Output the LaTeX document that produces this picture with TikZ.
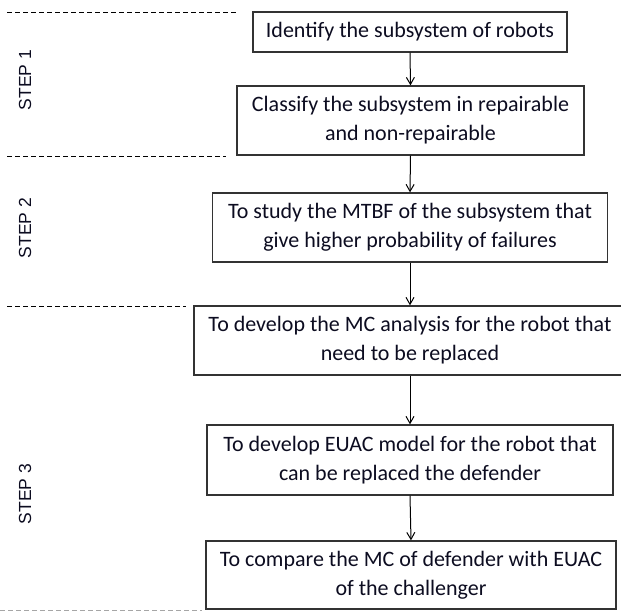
\documentclass[tikz,border=0pt]{standalone}
\usepackage{fontspec}
\setmainfont{Carlito}
\newfontfamily\stepfont{Liberation Sans}
\usetikzlibrary{arrows.meta}
\definecolor{boxline}{HTML}{333333}
\definecolor{txt}{HTML}{0c0c20}
\begin{document}
\begin{tikzpicture}[x=1pt,y=-1pt,
  flowbox/.style={draw=boxline,line width=1.3pt,inner sep=0pt,align=center,
    text=txt,font=\fontsize{22}{29}\selectfont},
  flowarrow/.style={draw=black,line width=1pt,-{Straight Barb[length=7pt,width=8pt]}},
  divider/.style={draw=black,line width=1pt,dash pattern=on 5pt off 3pt},
  steplabel/.style={rotate=90,text=txt,font=\stepfont\fontsize{17.5}{20}\selectfont,inner sep=0pt}]
\useasboundingbox (0,0) rectangle (621,611);
% dashed dividers
\coordinate (d1a) at (7,12);  \coordinate (d1b) at (236,12);
\coordinate (d2a) at (7,156); \coordinate (d2b) at (226,156);
\coordinate (d3a) at (7,306); \coordinate (d3b) at (186,306);
\coordinate (d4a) at (0,610); \coordinate (d4b) at (202,610);
\draw[divider] (d1a) -- (d1b);
\draw[divider] (d2a) -- (d2b);
\draw[divider] (d3a) -- (d3b);
\draw[divider,draw=gray!70] (d4a) -- (d4b);
% step labels
\node[steplabel] (s1) at (25,80) {STEP 1};
\node[steplabel] (s2) at (25,228) {STEP 2};
\node[steplabel] (s3) at (25,494) {STEP 3};
% boxes
\node[flowbox,minimum width=314pt,minimum height=40pt] (b1) at (410,32) {Identify the subsystem of robots};
\node[flowbox,minimum width=347pt,minimum height=69pt] (b2) at (410.5,120.5) {Classify the subsystem in repairable\\and non-repairable};
\node[flowbox,minimum width=395pt,minimum height=69pt] (b3) at (410,227.5) {To study the MTBF of the subsystem that\\give higher probability of failures};
\node[flowbox,minimum width=432pt,minimum height=69pt] (b4) at (410,340.5) {To develop the MC analysis for the robot that\\need to be replaced};
\node[flowbox,minimum width=406pt,minimum height=70pt] (b5) at (410,460) {To develop EUAC model for the robot that\\can be replaced the defender};
\node[flowbox,minimum width=410pt,minimum height=68pt] (b6) at (411,575) {To compare the MC of defender with EUAC\\of the challenger};
% arrows
\draw[flowarrow] (b1.south) -- (b2.north);
\draw[flowarrow] (b2.south) -- (b3.north);
\draw[flowarrow] (b3.south) -- (b4.north);
\draw[flowarrow] (b4.south) -- (b5.north);
\draw[flowarrow] (b5.south) -- (b6.north);
\end{tikzpicture}
\end{document}
